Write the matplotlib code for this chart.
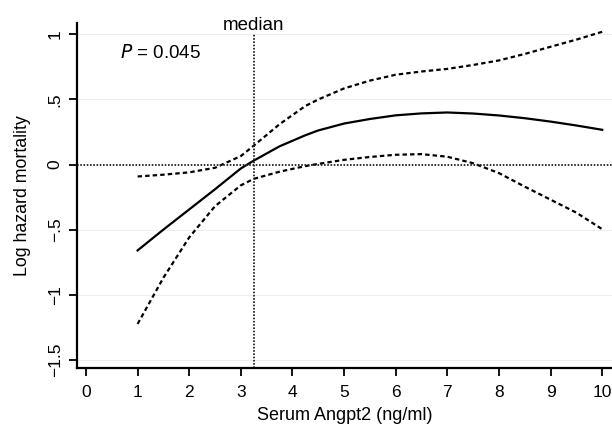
import numpy as np
import matplotlib
matplotlib.use("Agg")
import matplotlib.pyplot as plt

plt.rcParams['font.family'] = ['Liberation Sans', 'DejaVu Sans']

# values
angpt2 = [1, 1.5, 2, 2.5, 3, 3.25, 3.75, 4.25, 4.5, 5, 5.5, 6, 6.5, 7, 7.5, 8, 8.5, 9, 9.5, 10]
log_hr = [-0.66, -0.50, -0.345, -0.19, -0.03, 0.03, 0.14, 0.225, 0.262, 0.315, 0.35, 0.378, 0.393, 0.40, 0.392, 0.377, 0.356, 0.33, 0.30, 0.267]
upper = [-0.092, -0.078, -0.06, -0.025, 0.065, 0.145, 0.31, 0.45, 0.50, 0.585, 0.645, 0.69, 0.715, 0.735, 0.765, 0.80, 0.85, 0.905, 0.96, 1.02]
lower = [-1.225, -0.87, -0.56, -0.32, -0.16, -0.11, -0.055, -0.012, 0.005, 0.036, 0.058, 0.075, 0.08, 0.06, 0.01, -0.066, -0.17, -0.27, -0.37, -0.497]
median = 3.25
p_text = "= 0.045"

fig = plt.figure(figsize=(6.12, 4.25), dpi=100)
ax = fig.add_axes([0.1253, 0.1334, 0.8747, 0.8132])

for yv in [-1.5, -1, -0.5, 0.5, 1]:
    ax.axhline(yv, color='#eeeeee', lw=0.8, zorder=0)

ax.plot(angpt2, log_hr, color='black', lw=1.6)
ax.plot(angpt2, upper, color='black', lw=1.6, ls=(0, (2.0, 1.4)))
ax.plot(angpt2, lower, color='black', lw=1.6, ls=(0, (2.0, 1.4)))

ax.axhline(0, color='#222222', lw=1.3, ls=(0, (0.9, 0.9)))
ax.vlines(median, -1.566, 1.0, color='#222222', lw=1.3, ls=(0, (0.9, 0.9)))

ax.set_xlim(-0.18, 10.19)
ax.set_ylim(-1.566, 1.09)
ax.set_xticks(range(0, 11))
ax.set_yticks([-1.5, -1, -0.5, 0, 0.5, 1])
ax.set_yticklabels(['\u22121.5', '\u22121', '\u2212.5', '0', '.5', '1'], rotation=90, va='center')
ax.tick_params(labelsize=12.5, length=6, width=1.3, direction='out')
ax.tick_params(axis='x', pad=6)
ax.tick_params(axis='y', pad=4)

for s in ['top', 'right']:
    ax.spines[s].set_visible(False)
for s in ['left', 'bottom']:
    ax.spines[s].set_linewidth(1.6)

ax.set_xlabel('Serum Angpt2 (ng/ml)', fontsize=13, labelpad=5)
ax.set_ylabel('Log hazard mortality', fontsize=12.8, labelpad=12)

ax.text(median, 1.036, 'median', ha='center', va='baseline', fontsize=13.5)
ax.text(0.65, 0.855, '$\\mathit{P}$ ' + p_text, ha='left', va='center', fontsize=13.5)

fig.savefig('out.png', dpi=100)
